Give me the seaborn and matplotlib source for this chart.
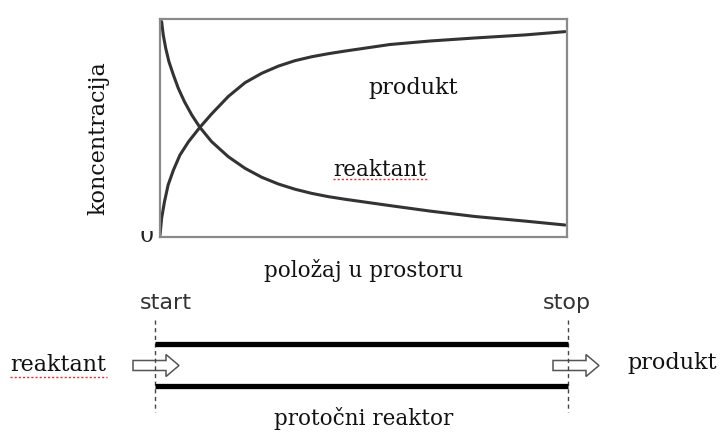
import numpy as np
import matplotlib
matplotlib.use("Agg")
import matplotlib.pyplot as plt
import seaborn as sns
from matplotlib.patches import FancyArrow, Rectangle

# podaci (očitano sa slike), položaj 0..1, koncentracija 0..1
polozaj = [0.004, 0.008, 0.014, 0.022, 0.033, 0.045, 0.060, 0.078, 0.098,
           0.127, 0.168, 0.209, 0.250, 0.291, 0.332, 0.373, 0.414, 0.455,
           0.565, 0.663, 0.774, 0.897, 0.995]
reaktant = [0.988, 0.927, 0.866, 0.804, 0.743, 0.682, 0.621, 0.560, 0.503,
            0.437, 0.368, 0.315, 0.274, 0.243, 0.219, 0.200, 0.185, 0.173,
            0.144, 0.119, 0.094, 0.073, 0.055]
polozaj_p = [0.000, 0.004, 0.011, 0.020, 0.033, 0.049, 0.070, 0.098, 0.127,
             0.168, 0.209, 0.250, 0.291, 0.332, 0.373, 0.414, 0.455, 0.565,
             0.663, 0.774, 0.897, 0.995]
produkt = [0.009, 0.086, 0.162, 0.239, 0.307, 0.376, 0.437, 0.503, 0.565,
           0.645, 0.708, 0.751, 0.784, 0.809, 0.827, 0.841, 0.853, 0.883,
           0.899, 0.913, 0.927, 0.942]

sns.set_style("white")
plt.rcParams["font.family"] = ["DejaVu Serif"]

W, H = 724, 432
fig = plt.figure(figsize=(W / 100, H / 100), dpi=100)

# gornji graf
ax = fig.add_axes([160 / W, (H - 237) / H, 407 / W, 218 / H])
sns.lineplot(x=polozaj, y=reaktant, ax=ax, color="#333333", lw=2.2, sort=False,
             solid_joinstyle="round", solid_capstyle="round")
sns.lineplot(x=polozaj_p, y=produkt, ax=ax, color="#333333", lw=2.2, sort=False,
             solid_joinstyle="round", solid_capstyle="round")
ax.set_xlim(0, 1)
ax.set_ylim(0, 1)
ax.set_xticks([])
ax.set_yticks([])
for s in ax.spines.values():
    s.set_visible(True)
    s.set_color("#8a8a8a")
    s.set_linewidth(1.6)

ax.text(0.622, 0.683, "produkt", ha="center", va="center", fontsize=16, color="#111111")
ax.text(0.541, 0.307, "reaktant", ha="center", va="center", fontsize=15.5, color="#111111")

# crtež reaktora, koordinate u pikselima
ov = fig.add_axes([0, 0, 1, 1])
ov.set_xlim(0, W)
ov.set_ylim(H, 0)
ov.axis("off")

ov.text(98, 138, "koncentracija", rotation=90, ha="center", va="center", fontsize=16, color="#111111")
ov.text(364, 271, "položaj u prostoru", ha="center", va="center", fontsize=15.5, color="#111111")
nula = ov.text(147, 236, "0", ha="center", va="center", fontsize=16, color="#222222", clip_on=True)
nula.set_clip_path(Rectangle((136, 231), 22, 16, transform=ov.transData))

# crvene "spellcheck" crte
ov.plot([333, 427], [179, 179], color="#e03030", lw=1, ls=(0, (1.5, 1.5)))
ov.plot([10, 107], [377, 377], color="#e03030", lw=1, ls=(0, (1.5, 1.5)))

x_start, x_stop = 155, 568
ov.text(166, 303, "start", ha="center", va="center", fontsize=16, color="#333333", family="DejaVu Sans")
ov.text(567, 303, "stop", ha="center", va="center", fontsize=16, color="#333333", family="DejaVu Sans")
ov.vlines([x_start, x_stop], 320, 412, color="#444444", lw=1, linestyles=(0, (3, 2.5)))
ov.hlines([344, 386], x_start, x_stop, color="black", lw=3.8)

for x0 in (133, 553):
    ov.add_patch(FancyArrow(x0, 365.5, 46, 0, width=10, head_width=22, head_length=13,
                            length_includes_head=True, facecolor="white",
                            edgecolor="#555555", lw=1.1))

ov.text(58, 365, "reaktant", ha="center", va="center", fontsize=16, color="#111111")
ov.text(672, 363, "produkt", ha="center", va="center", fontsize=16, color="#111111")
ov.text(364, 419, "protočni reaktor", ha="center", va="center", fontsize=15.5, color="#111111")

fig.savefig("out.png", dpi=100)
